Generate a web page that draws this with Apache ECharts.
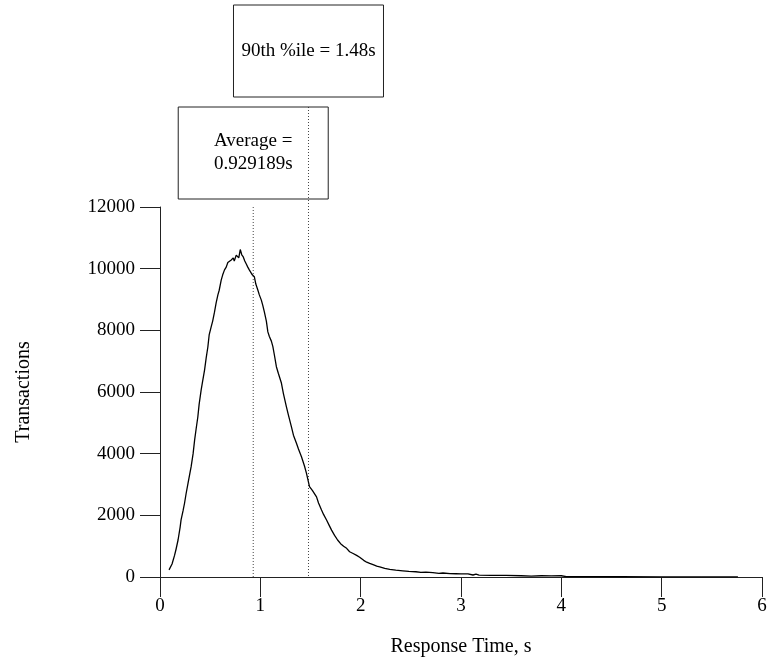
<!DOCTYPE html>
<html>
<head>
<meta charset="utf-8">
<script src="https://cdn.jsdelivr.net/npm/echarts@6/dist/echarts.min.js"></script>
<style>
  html, body { margin: 0; padding: 0; background: #fff; }
  #main { width: 767px; height: 659px; }
</style>
</head>
<body>
<div id="main"></div>
<script>
// response time (s) and transaction counts
var respTime = [
  0.09, 0.12, 0.145, 0.16, 0.18, 0.20, 0.21, 0.23, 0.245, 0.26, 0.28, 0.30, 0.31, 0.33, 0.345, 0.36,
  0.377, 0.39, 0.41, 0.425, 0.444, 0.46, 0.477, 0.49, 0.51, 0.525, 0.543, 0.56, 0.577, 0.59, 0.61,
  0.625, 0.643, 0.66, 0.676, 0.69, 0.71, 0.73, 0.74, 0.76, 0.775, 0.785, 0.80, 0.815, 0.83, 0.845,
  0.86, 0.875, 0.89, 0.905, 0.92, 0.94, 0.955, 0.975, 0.99, 1.01, 1.025, 1.04, 1.06, 1.075, 1.09,
  1.11, 1.125, 1.14, 1.16, 1.18, 1.21, 1.23, 1.26, 1.28, 1.31, 1.33, 1.36, 1.38, 1.41, 1.44, 1.46,
  1.49, 1.52, 1.56, 1.58, 1.61, 1.63, 1.66, 1.69, 1.71, 1.74, 1.77, 1.80, 1.83, 1.86, 1.89, 1.92,
  1.96, 1.99, 2.03, 2.06, 2.09, 2.13, 2.16, 2.19, 2.24, 2.29, 2.35, 2.42, 2.48, 2.55, 2.60, 2.65,
  2.72, 2.78, 2.82, 2.89, 2.95, 3.00, 3.07, 3.12, 3.15, 3.18, 3.30, 3.45, 3.60, 3.70, 3.80, 3.90,
  4.00, 4.05, 4.30, 4.60, 5.00, 5.40, 5.76
]
var transactions = [
  230, 420, 700, 900, 1200, 1600, 1850, 2150, 2400, 2700, 3050, 3400, 3570, 4000, 4440, 4800,
  5190, 5600, 6060, 6350, 6710, 7100, 7460, 7850, 8110, 8300, 8590, 8900, 9150, 9300, 9630,
  9800, 9960, 10050, 10200, 10150, 10280, 10350, 10250, 10440, 10500, 10350, 10620, 10450, 10380, 10250,
  10150, 10050, 9960, 9900, 9800, 9740, 9500, 9310, 9150, 8980, 8800, 8600, 8300, 7950, 7800,
  7650, 7470, 7200, 6820, 6600, 6290, 5950, 5520, 5250, 4870, 4600, 4340, 4150, 3900, 3600, 3360,
  2930, 2800, 2600, 2400, 2170, 2030, 1850, 1650, 1520, 1350, 1200, 1080, 1000, 930, 820, 770,
  700, 640, 540, 480, 440, 390, 350, 330, 280, 250, 220, 200, 180, 170, 150, 155,
  140, 120, 130, 110, 105, 100, 100, 65, 90, 60, 55, 50, 40, 30, 40, 35,
  40, 15, 10, 8, 6, 4, 3
]
var avgTime = 0.929189
var pct90Time = 1.48
var avgText = 'Average =\n0.929189s'
var pct90Text = '90th %ile = 1.48s'

var font = '"Liberation Serif", "DejaVu Serif", serif'

var myChart = echarts.init(document.getElementById('main'))

var points = []
for (var i = 0; i < respTime.length; i++) {
  points.push([respTime[i], transactions[i]])
}

var option = {
  animation: false,
  backgroundColor: '#fff',
  grid: { left: 160, right: 5, top: 207, bottom: 82, outerBoundsMode: 'none', containLabel: false },
  xAxis: {
    type: 'value',
    min: 0, max: 6, interval: 1,
    name: 'Response Time, s',
    nameLocation: 'middle',
    nameGap: 60,
    nameTextStyle: { fontFamily: font, fontSize: 20, color: '#000' },
    axisLine: { onZero: false, lineStyle: { color: '#222', width: 1 } },
    axisTick: { show: true, inside: false, length: 20, lineStyle: { color: '#222' } },
    axisLabel: { margin: 20, fontFamily: font, fontSize: 19, color: '#000' },
    splitLine: { show: false }
  },
  yAxis: {
    type: 'value',
    min: 0, max: 12000, interval: 2000,
    name: 'Transactions',
    nameLocation: 'middle',
    nameGap: 126,
    nameTextStyle: { fontFamily: font, fontSize: 20, color: '#000' },
    axisLine: { show: true, lineStyle: { color: '#222', width: 1 } },
    axisTick: { show: true, inside: false, length: 20, lineStyle: { color: '#222' } },
    axisLabel: {
      margin: 25, fontFamily: font, fontSize: 19, color: '#000',
      formatter: function (v) { return String(v) }
    },
    splitLine: { show: false }
  },
  series: [{
    type: 'line',
    data: points,
    showSymbol: false,
    symbol: 'none',
    lineStyle: { color: '#000', width: 1.3 }
  }]
}
myChart.setOption(option)

// annotation lines and boxes, placed from the axis scale
var xAvg = myChart.convertToPixel({ xAxisIndex: 0 }, avgTime)
var x90 = myChart.convertToPixel({ xAxisIndex: 0 }, pct90Time)
var yTop = myChart.convertToPixel({ yAxisIndex: 0 }, 12000)
var yBottom = myChart.convertToPixel({ yAxisIndex: 0 }, 0)
var boxW = 150, boxH = 92
var avgBoxTop = 107, pctBoxTop = 5
var dotted = { stroke: '#444', lineWidth: 1, lineDash: [1, 2] }

myChart.setOption({
  graphic: [
    { type: 'line', silent: true, shape: { x1: xAvg, y1: yTop, x2: xAvg, y2: yBottom }, style: dotted },
    { type: 'line', silent: true, shape: { x1: x90, y1: avgBoxTop, x2: x90, y2: yBottom }, style: dotted },
    {
      type: 'rect', silent: true,
      shape: { x: xAvg - boxW / 2, y: avgBoxTop, width: boxW, height: boxH },
      style: { fill: 'rgba(0,0,0,0)', stroke: '#222', lineWidth: 1 }
    },
    {
      type: 'text', silent: true, x: xAvg, y: avgBoxTop + boxH / 2,
      style: { text: avgText, font: '19px ' + font, fill: '#000', align: 'center', verticalAlign: 'middle', lineHeight: 23 }
    },
    {
      type: 'rect', silent: true,
      shape: { x: x90 - boxW / 2, y: pctBoxTop, width: boxW, height: boxH },
      style: { fill: '#fff', stroke: '#222', lineWidth: 1 }
    },
    {
      type: 'text', silent: true, x: x90, y: pctBoxTop + boxH / 2,
      style: { text: pct90Text, font: '19px ' + font, fill: '#000', align: 'center', verticalAlign: 'middle' }
    }
  ]
})
</script>
</body>
</html>
